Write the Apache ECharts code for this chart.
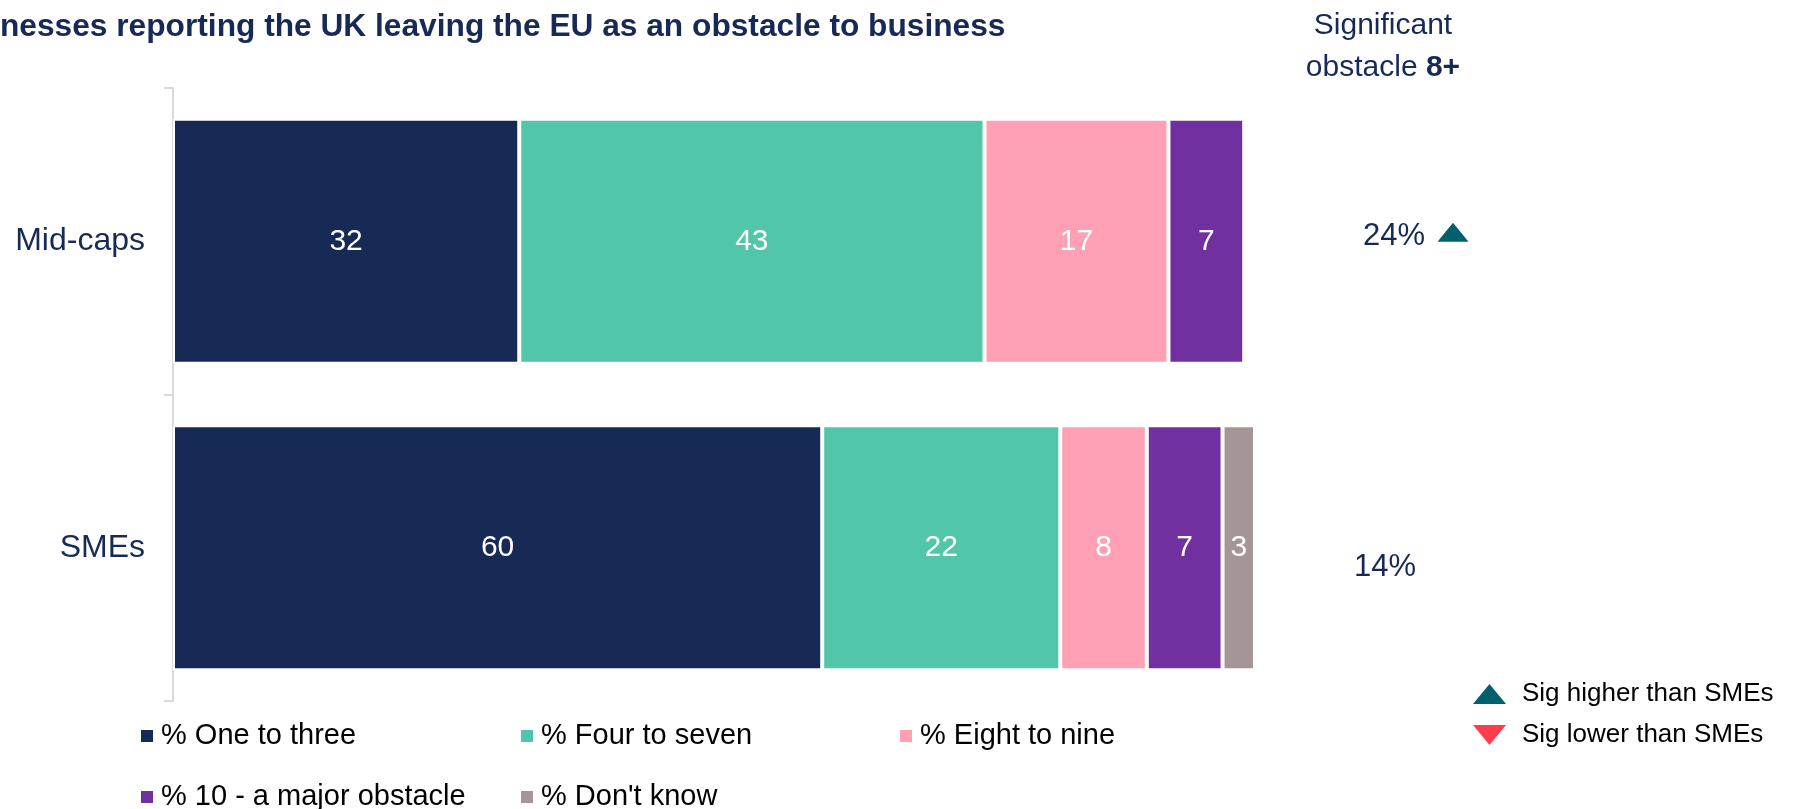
<!DOCTYPE html>
<html>
<head>
<meta charset="utf-8">
<script src="https://cdn.jsdelivr.net/npm/echarts@6/dist/echarts.min.js"></script>
<style>
  html, body { margin: 0; padding: 0; background: #ffffff; }
  #chart { width: 1795px; height: 809px; }
</style>
</head>
<body>
<div id="chart"></div>
<script>
// Survey groups (top to bottom)
const categories = ['Mid-caps', 'SMEs'];

// Share of businesses (%) by obstacle rating
const oneToThree    = [32, 60];
const fourToSeven   = [43, 22];
const eightToNine   = [17, 8];
const majorObstacle = [7, 7];
const dontKnow      = [null, 3];

// Rated a significant obstacle (8+), %
const significantShare = [24, 14];
// Significance flag against SMEs
const sigVsSMEs = ['higher', null];

const seriesNames = ['% One to three', '% Four to seven', '% Eight to nine',
                     '% 10 - a major obstacle', "% Don't know"];
const seriesValues = [oneToThree, fourToSeven, eightToNine, majorObstacle, dontKnow];
const seriesColors = ['#172A56', '#52C6A9', '#FFA0B4', '#7030A0', '#A69597'];

const NAVY = '#172A56';
const FONT = '"Liberation Sans", Arial, Helvetica, sans-serif';
const UP_ICON = 'path://M0,20 L16.5,0 L33,20 Z';
const DOWN_ICON = 'path://M0,0 L33,0 L16.5,20 Z';

const chart = echarts.init(document.getElementById('chart'), null, { renderer: 'canvas' });

const barSeries = seriesNames.map((name, i) => ({
  name,
  type: 'bar',
  stack: 'total',
  xAxisIndex: 0,
  yAxisIndex: 0,
  barCategoryGap: '20%',
  data: seriesValues[i],
  itemStyle: { color: seriesColors[i], borderColor: '#ffffff', borderWidth: 2 },
  label: {
    show: true,
    position: 'inside',
    color: '#ffffff',
    fontFamily: FONT,
    fontSize: 30,
    formatter: p => (p.value == null ? '' : String(p.value))
  },
  emphasis: { disabled: true }
}));

// Significant-obstacle column on its own grid to the right of the bars
const shareSeries = {
  name: 'Significant obstacle 8+',
  type: 'scatter',
  xAxisIndex: 1,
  yAxisIndex: 1,
  symbolSize: 0,
  silent: true,
  itemStyle: { opacity: 1 },
  data: categories.map((c, i) => ({
    value: [0, c, significantShare[i]],
    label: { offset: i === 0 ? [6, -5] : [-3, 20] }
  })),
  label: {
    show: true,
    position: 'inside',
    color: NAVY,
    fontFamily: FONT,
    fontSize: 31,
    formatter: p => p.value[2] + '%'
  }
};

const sigHigher = {
  name: 'Sig higher than SMEs',
  type: 'scatter',
  xAxisIndex: 1,
  yAxisIndex: 1,
  symbol: UP_ICON,
  symbolSize: [31, 19],
  symbolOffset: [65, -9],
  silent: true,
  itemStyle: { color: '#00606E', opacity: 1 },
  data: categories.filter((c, i) => sigVsSMEs[i] === 'higher').map(c => [0, c])
};

const sigLower = {
  name: 'Sig lower than SMEs',
  type: 'scatter',
  xAxisIndex: 1,
  yAxisIndex: 1,
  symbol: DOWN_ICON,
  symbolSize: [31, 19],
  symbolOffset: [65, -9],
  silent: true,
  itemStyle: { color: '#FF3B4E', opacity: 1 },
  data: categories.filter((c, i) => sigVsSMEs[i] === 'lower').map(c => [0, c])
};

const legendText = {
  color: '#000000',
  fontFamily: FONT,
  fontSize: 29,
  lineHeight: 30,
  padding: [0, 0, 0, 3]
};

// One legend entry per grid cell so the columns line up
function legendItem(name, left, top) {
  return {
    data: [name],
    left,
    top,
    padding: 0,
    itemWidth: 12,
    itemHeight: 12,
    icon: 'rect',
    selectedMode: false,
    itemStyle: { borderWidth: 0 },
    textStyle: legendText
  };
}

const option = {
  animation: false,
  backgroundColor: '#ffffff',
  title: [
    {
      text: 'nesses reporting the UK leaving the EU as an obstacle to business',
      left: 0,
      top: 11,
      padding: 0,
      textStyle: { color: NAVY, fontFamily: FONT, fontWeight: 'bold', fontSize: 31.7 }
    },
    {
      text: 'Significant\nobstacle {b|8+}',
      left: 1383,
      textAlign: 'center',
      top: 5,
      padding: 0,
      textStyle: {
        color: NAVY, fontFamily: FONT, fontWeight: 'normal', fontSize: 30, lineHeight: 42,
        rich: { b: { color: NAVY, fontFamily: FONT, fontWeight: 'bold', fontSize: 30, lineHeight: 42 } }
      }
    }
  ],
  legend: [
    legendItem(seriesNames[0], 141, 721),
    legendItem(seriesNames[1], 521, 721),
    legendItem(seriesNames[2], 900, 721),
    legendItem(seriesNames[3], 141, 782),
    legendItem(seriesNames[4], 521, 782),
    {
      data: [
        { name: 'Sig higher than SMEs', icon: UP_ICON },
        { name: 'Sig lower than SMEs', icon: DOWN_ICON }
      ],
      orient: 'vertical',
      left: 1473,
      top: 681,
      padding: 0,
      itemGap: 15,
      itemWidth: 33,
      itemHeight: 20,
      selectedMode: false,
      itemStyle: { opacity: 1 },
      textStyle: {
        color: '#000000', fontFamily: FONT, fontSize: 26, lineHeight: 26,
        padding: [0, 0, 0, 11]
      }
    }
  ],
  grid: [
    { left: 173, right: 540, top: 88, height: 613 },
    { left: 1303, width: 170, top: 88, height: 613 }
  ],
  xAxis: [
    { type: 'value', gridIndex: 0, min: 0, max: 100, show: false },
    { type: 'value', gridIndex: 1, min: -1, max: 1, show: false }
  ],
  yAxis: [
    {
      type: 'category',
      gridIndex: 0,
      data: categories,
      inverse: true,
      axisLine: { show: true, lineStyle: { color: '#D9D9D9', width: 2 } },
      axisTick: { show: true, length: 9, lineStyle: { color: '#D9D9D9', width: 2 } },
      axisLabel: { color: NAVY, fontFamily: FONT, fontSize: 32, margin: 28 },
      splitLine: { show: false }
    },
    {
      type: 'category',
      gridIndex: 1,
      data: categories,
      inverse: true,
      show: false
    }
  ],
  series: [...barSeries, shareSeries, sigHigher, sigLower]
};

chart.setOption(option);
</script>
</body>
</html>
